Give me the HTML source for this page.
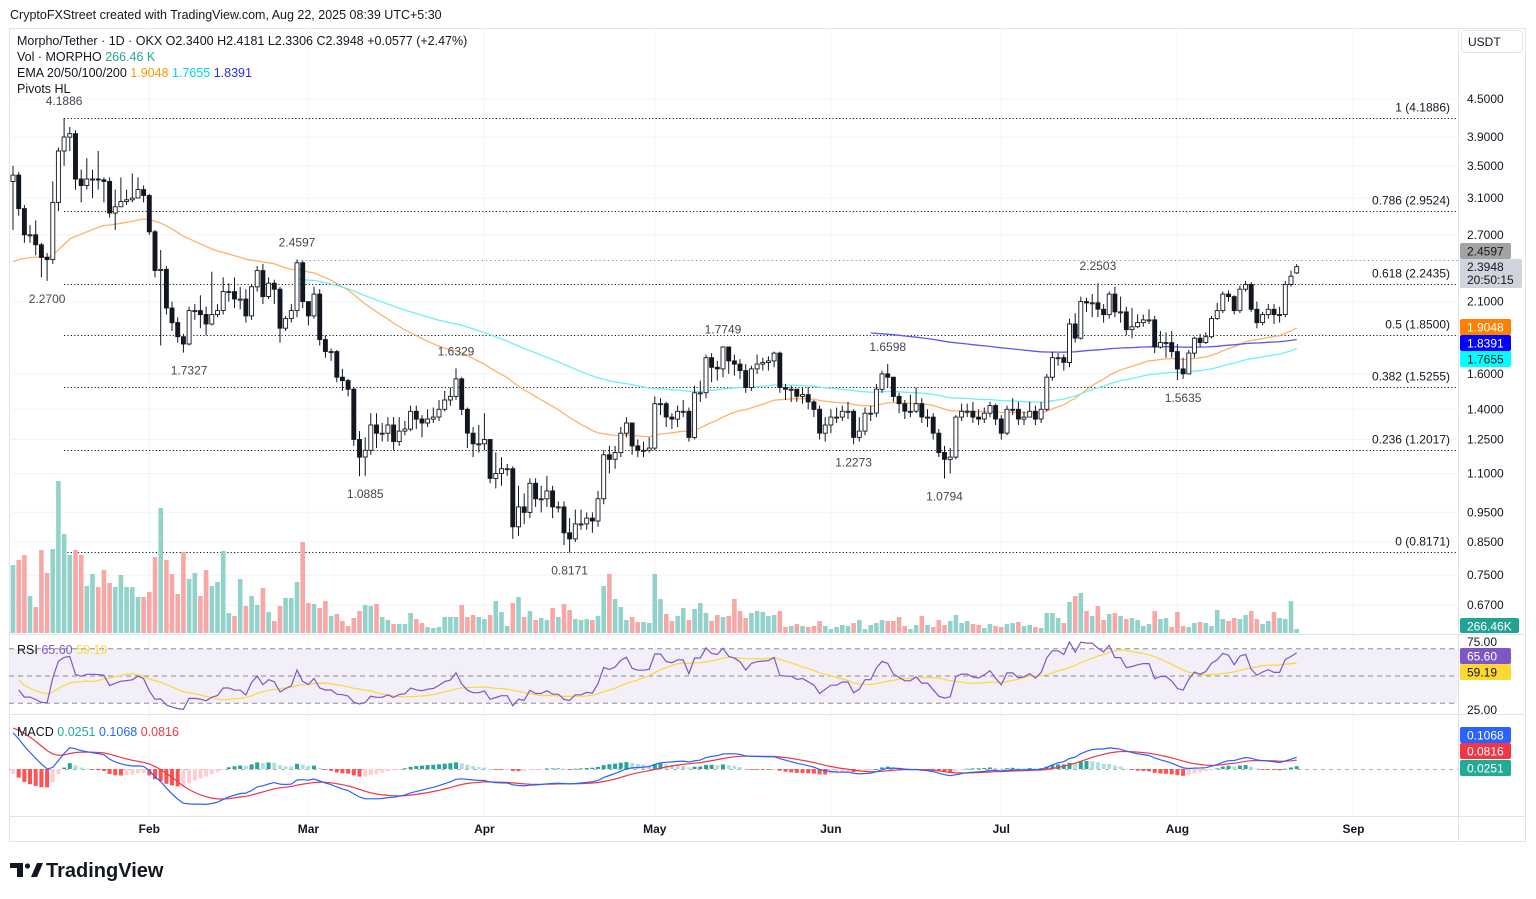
<!DOCTYPE html>
<html><head><meta charset="utf-8">
<style>
html,body{margin:0;padding:0;background:#fff;}
svg{display:block;font-family:"Liberation Sans",sans-serif;}
</style></head>
<body>
<svg id="chart" width="1536" height="899" viewBox="0 0 1536 899" xmlns="http://www.w3.org/2000/svg">
<rect x="0" y="0" width="1536" height="899" fill="#ffffff"/>
<text x="10" y="19" font-size="12.5" fill="#131722">CryptoFXStreet created with TradingView.com, Aug 22, 2025 08:39 UTC+5:30</text>
<rect x="9.5" y="28.5" width="1516" height="813" fill="none" stroke="#e0e3eb"/>
<g id="grid"></g>
<rect x="9.5" y="649" width="1448" height="54" fill="#f2eff9"/>
<g id="fib"></g>
<g id="vol"></g>
<g id="ema"></g>
<g id="candles"></g>
<g id="pivots"></g>
<g id="rsi"></g>
<g id="macd"></g>
<g id="axis"></g>
<g id="xaxis"></g>
<line x1="1458.5" y1="28" x2="1458.5" y2="842" stroke="#e0e3eb"/>
<line x1="9" y1="634.5" x2="1526" y2="634.5" stroke="#e0e3eb"/>
<line x1="9" y1="714.5" x2="1526" y2="714.5" stroke="#e0e3eb"/>
<line x1="9" y1="816.5" x2="1526" y2="816.5" stroke="#e0e3eb"/>
<g font-size="12.5" xml:space="preserve">
<text x="17" y="45" fill="#131722">Morpho/Tether · 1D · OKX  O2.3400  H2.4181  L2.3306  C2.3948  +0.0577 (+2.47%)</text>
<text x="17" y="61" fill="#131722">Vol · MORPHO  <tspan fill="#26a69a">266.46 K</tspan></text>
<text x="17" y="77" fill="#131722">EMA 20/50/100/200  <tspan fill="#ff9800">1.9048</tspan>  <tspan fill="#00d5e8">1.7655</tspan>  <tspan fill="#2b2bff">1.8391</tspan></text>
<text x="17" y="93" fill="#131722">Pivots HL</text>
<text x="17" y="654" fill="#131722">RSI  <tspan fill="#7e57c2">65.60</tspan>  <tspan fill="#fdd835">59.19</tspan></text>
<text x="17" y="736" fill="#131722">MACD  <tspan fill="#22ab94">0.0251</tspan>  <tspan fill="#2962ff">0.1068</tspan>  <tspan fill="#f23645">0.0816</tspan></text>
</g>
<rect x="1461.5" y="30.5" width="61" height="22" rx="4" fill="#fff" stroke="#e0e3eb"/>
<text x="1468" y="46" font-size="12" fill="#131722">USDT</text>
<g>
<path d="M10 863 h13 v14 h-6 v-9 h-7 z" fill="#131722"/>
<circle cx="27.5" cy="866" r="2.6" fill="#131722"/>
<path d="M31 877 l6 -14 h6 l-6 14 z" fill="#131722"/>
<text x="46" y="877" font-size="20" font-weight="bold" fill="#131722">TradingView</text>
</g>
</svg>
<script>
const closes=[3.38,2.98,2.70,2.70,2.60,2.48,2.46,3.05,3.70,3.90,3.95,3.33,3.25,3.33,3.33,3.32,3.30,2.93,3.00,3.06,3.08,3.10,3.20,3.13,2.73,2.36,2.37,2.05,1.94,1.84,1.79,2.03,2.03,2.00,1.93,2.00,2.03,2.18,2.18,2.12,2.12,1.99,2.22,2.36,2.14,2.25,2.20,1.90,1.97,2.03,2.43,2.10,1.99,2.16,1.82,1.74,1.74,1.58,1.56,1.51,1.25,1.17,1.20,1.32,1.28,1.28,1.32,1.24,1.29,1.30,1.39,1.35,1.33,1.35,1.36,1.40,1.45,1.47,1.57,1.40,1.28,1.23,1.23,1.25,1.08,1.10,1.12,1.12,0.90,0.97,0.95,1.06,1.00,1.00,1.03,0.97,0.97,0.88,0.86,0.91,0.91,0.93,0.92,1.00,1.18,1.16,1.19,1.28,1.33,1.22,1.20,1.20,1.21,1.43,1.43,1.36,1.35,1.39,1.39,1.26,1.49,1.49,1.70,1.64,1.63,1.77,1.68,1.66,1.62,1.52,1.63,1.66,1.67,1.68,1.73,1.52,1.51,1.51,1.47,1.48,1.44,1.40,1.28,1.32,1.36,1.36,1.39,1.39,1.26,1.29,1.38,1.38,1.51,1.60,1.58,1.47,1.43,1.39,1.39,1.43,1.36,1.36,1.28,1.19,1.16,1.17,1.36,1.39,1.39,1.36,1.35,1.38,1.42,1.35,1.28,1.40,1.40,1.35,1.36,1.39,1.35,1.40,1.58,1.70,1.70,1.67,1.93,1.83,2.10,2.09,2.09,2.04,2.00,2.16,2.02,2.02,1.89,1.91,1.94,1.96,1.96,1.77,1.80,1.80,1.74,1.63,1.60,1.73,1.83,1.80,1.84,1.97,2.03,2.16,2.14,2.03,2.20,2.24,2.04,1.94,2.00,2.04,2.00,2.00,2.24,2.31,2.3948];
const highs=[3.50,3.42,3.02,2.80,2.85,2.62,2.52,3.30,3.75,4.19,4.05,4.00,3.45,3.60,3.45,3.70,3.35,3.35,3.20,3.35,3.20,3.40,3.35,3.25,3.15,2.75,2.55,2.40,2.10,1.98,1.86,2.06,2.08,2.15,2.06,2.35,2.08,2.30,2.25,2.30,2.22,2.20,2.24,2.40,2.42,2.30,2.28,2.22,1.99,2.08,2.46,2.45,2.10,2.22,2.20,1.85,1.76,1.75,1.63,1.57,1.52,1.29,1.26,1.38,1.38,1.33,1.36,1.36,1.36,1.34,1.42,1.42,1.37,1.40,1.41,1.45,1.50,1.52,1.633,1.58,1.41,1.31,1.32,1.38,1.25,1.19,1.17,1.14,1.13,1.05,1.02,1.08,1.08,1.05,1.09,1.05,0.99,0.99,0.93,0.96,0.96,0.95,0.95,1.03,1.20,1.22,1.22,1.31,1.36,1.33,1.25,1.24,1.26,1.47,1.46,1.44,1.38,1.42,1.45,1.41,1.53,1.56,1.72,1.73,1.68,1.775,1.77,1.72,1.69,1.66,1.65,1.72,1.70,1.71,1.74,1.74,1.54,1.53,1.51,1.52,1.52,1.45,1.42,1.36,1.40,1.41,1.42,1.44,1.40,1.36,1.41,1.42,1.54,1.62,1.66,1.58,1.49,1.45,1.48,1.52,1.46,1.40,1.38,1.30,1.22,1.21,1.37,1.43,1.43,1.44,1.40,1.41,1.44,1.43,1.37,1.42,1.46,1.44,1.39,1.44,1.42,1.44,1.60,1.74,1.73,1.72,1.97,2.01,2.14,2.13,2.16,2.25,2.08,2.18,2.22,2.14,2.06,2.05,2.00,2.00,2.04,1.99,1.88,1.87,1.88,1.79,1.70,1.75,1.84,1.86,1.87,1.99,2.09,2.18,2.19,2.15,2.23,2.27,2.26,2.10,2.02,2.08,2.08,2.06,2.27,2.36,2.418];
const lows=[2.75,2.90,2.62,2.62,2.50,2.30,2.27,2.42,2.95,3.50,3.70,3.20,3.05,3.20,3.10,3.20,3.05,2.88,2.75,3.00,3.02,3.05,3.10,3.05,2.70,2.30,1.78,2.00,1.88,1.80,1.733,1.78,1.96,1.90,1.85,1.92,1.98,2.00,2.10,2.05,2.04,1.94,1.96,2.18,2.08,2.12,2.08,1.80,1.88,1.94,1.98,2.05,1.92,1.97,1.78,1.70,1.68,1.55,1.50,1.47,1.22,1.0885,1.09,1.18,1.21,1.24,1.24,1.20,1.22,1.27,1.29,1.30,1.26,1.31,1.33,1.34,1.39,1.42,1.45,1.37,1.21,1.17,1.19,1.20,1.06,1.04,1.05,1.09,0.86,0.87,0.91,0.93,0.97,0.95,0.97,0.93,0.95,0.84,0.817,0.85,0.89,0.89,0.88,0.90,0.98,1.10,1.12,1.17,1.26,1.18,1.17,1.17,1.19,1.20,1.37,1.31,1.30,1.31,1.36,1.24,1.25,1.44,1.46,1.55,1.56,1.58,1.60,1.59,1.57,1.49,1.50,1.60,1.62,1.62,1.64,1.49,1.45,1.44,1.44,1.43,1.40,1.36,1.25,1.24,1.28,1.33,1.34,1.35,1.2273,1.24,1.27,1.34,1.36,1.49,1.52,1.44,1.38,1.35,1.36,1.38,1.33,1.31,1.25,1.17,1.0794,1.10,1.16,1.34,1.36,1.33,1.32,1.33,1.36,1.32,1.25,1.27,1.37,1.32,1.32,1.36,1.32,1.33,1.39,1.56,1.65,1.62,1.64,1.80,1.82,2.02,1.98,1.98,1.94,1.97,1.98,1.94,1.85,1.83,1.90,1.91,1.93,1.73,1.76,1.70,1.70,1.5635,1.57,1.60,1.70,1.77,1.79,1.83,1.96,2.01,2.10,2.00,2.01,2.18,2.02,1.90,1.92,1.97,1.93,1.94,1.98,2.22,2.3306];
const firstOpen=3.30;
const lastOpen=2.34;
const volumes=[68,73,78,37,26,83,60,84,152,99,78,83,78,47,59,46,63,50,46,58,46,46,36,36,41,76,125,73,59,39,81,54,60,37,63,47,51,82,20,17,54,27,37,28,45,21,12,27,35,35,51,91,30,29,25,32,17,19,12,7,15,22,28,27,29,16,13,9,9,9,20,14,10,6,5,6,16,16,16,28,16,18,16,14,18,32,21,7,30,36,16,22,13,15,13,25,16,29,23,14,13,14,13,17,47,59,34,26,13,16,11,
11,10,59,34,19,12,17,25,13,24,30,20,12,18,16,17,34,22,15,20,22,21,17,18,22,6,7,9,7,6,7,12,7,4,6,8,7,10,13,4,8,10,13,12,12,16,7,4,8,17,8,6,13,8,12,18,10,12,9,8,5,9,7,6,9,10,11,7,8,6,5,20,20,15,10,31,37,40,22,17,27,13,19,20,17,14,15,13,7,9,22,14,15,6,21,7,6,10,11,10,7,23,14,12,15,14,18,22,14,9,12,21,15,14,32,4];
const priceTicks=[4.5,3.9,3.5,3.1,2.7,2.1,1.6,1.4,1.25,1.1,0.95,0.85,0.75,0.67];
const monthLabels=["Feb","Mar","Apr","May","Jun","Jul","Aug","Sep"];
const monthDays=[24,52,83,113,144,174,205,236];
const fibRatios=["1","0.786","0.618","0.5","0.382","0.236","0"];
const fibPrices=[4.1886,2.9524,2.2435,1.85,1.5255,1.2017,0.8171];
const pivotText=["4.1886","2.2700","1.7327","2.4597","1.0885","1.6329","0.8171","1.7749","1.2273","1.6598","1.0794","2.2503","1.5635"];
const pivotDay=[9,6,31,50,62,78,98,125,148,154,164,191,206];
const pivotIsHigh=[1,0,0,1,0,1,0,1,0,1,0,1,0];
const emaPeriods=[50,100,200];
const emaSeeds=[2.40,1.95,2.90];
const emaStart=[0,50,151];
const emaColors=["#ffb26b","#6ff0f4","#5a5af0"];
const macdSeeds=[3.35,3.0,0.38];

const NS="http://www.w3.org/2000/svg";
function mk(tag,attrs,parent){const e=document.createElementNS(NS,tag);for(const k in attrs)e.setAttribute(k,attrs[k]);parent.appendChild(e);return e;}
const X=i=>13+i*5.68;
const LN45=Math.log(4.5);
const Y=p=>99+(LN45-Math.log(p))*265.8;
const RY=v=>676-(v-50)*1.36;
const MY=v=>769-v*111;
const VY=v=>633-v;
const PLOT_R=1458;

const grid=document.getElementById('grid');
priceTicks.forEach(p=>{const l=mk('line',{x1:9,x2:PLOT_R,y1:Y(p).toFixed(1),y2:Y(p).toFixed(1),stroke:'#f3f4f6'},grid);

});
monthDays.forEach(d=>{const l=mk('line',{x1:X(d),x2:X(d),y1:28,y2:816,stroke:'#f3f4f6'},grid);

});

const fib=document.getElementById('fib');
fibPrices.forEach((p,k)=>{const y=Math.round(Y(p))+0.5;
const l=mk('line',{x1:64,x2:PLOT_R,y1:y,y2:y,stroke:'#131722','stroke-dasharray':'1.2,2.2'},fib);


const t=mk('text',{x:1450,y:y-7,'text-anchor':'end','font-size':12,fill:'#131722'},fib);
t.textContent=fibRatios[k]+' ('+p.toFixed(4)+')';

});
{const y=Math.round(Y(2.4597))+0.5;
const l=mk('line',{x1:X(50),x2:PLOT_R,y1:y,y2:y,stroke:'#8a8d96','stroke-dasharray':'1.2,3'},fib);

}

const opens=closes.map((c,i)=>i===0?firstOpen:(i===closes.length-1?lastOpen:closes[i-1]));

const vol=document.getElementById('vol');
volumes.forEach((v,i)=>{const up=closes[i]>=opens[i];
const r=mk('rect',{x:(X(i)-2.3).toFixed(1),y:VY(v),width:4.6,height:v,fill:up?'#92d2cb':'#f7a8a6'},vol);

});

function ema(arr,n,seed){const a=2/(n+1);let e=seed;return arr.map(v=>{e=e+a*(v-e);return e;});}
const emaG=document.getElementById('ema');
emaPeriods.forEach((n,k)=>{const e=ema(closes,n,emaSeeds[k]);
let d='';for(let i=emaStart[k];i<e.length;i++)d+=(i===emaStart[k]?'M':'L')+X(i).toFixed(1)+' '+Y(e[i]).toFixed(1);
const p=mk('path',{d:d,fill:'none',stroke:emaColors[k],'stroke-width':1.3},emaG);

});

const cg=document.getElementById('candles');
closes.forEach((c,i)=>{const o=opens[i];const x=X(i);
const w=mk('line',{x1:x.toFixed(1),x2:x.toFixed(1),y1:Y(highs[i]).toFixed(1),y2:Y(lows[i]).toFixed(1),stroke:'#131722','stroke-width':1},cg);


const top=Y(Math.max(o,c)),bot=Y(Math.min(o,c));
const up=c>=o;
const b=mk('rect',{x:(x-2).toFixed(1),y:top.toFixed(1),width:4,height:Math.max(1,bot-top).toFixed(1),fill:up?'#ffffff':'#131722',stroke:'#131722','stroke-width':0.9},cg);

});

const pg=document.getElementById('pivots');
pivotText.forEach((t,k)=>{const d=pivotDay[k];const p=parseFloat(t);
const y=pivotIsHigh[k]?Y(p)-13:Y(p)+22;
const tx=mk('text',{x:X(d).toFixed(1),y:y.toFixed(1),'text-anchor':'middle','font-size':12,fill:'#434651'},pg);
tx.textContent=t;

});

// RSI
const rg=document.getElementById('rsi');
[70,50,30].forEach(v=>{const l=mk('line',{x1:9,x2:PLOT_R,y1:RY(v),y2:RY(v),stroke:'#8a8d96','stroke-dasharray':'5,4'},rg);

});
const rsi=[];{let ag=0.06,al=0.06;const n=14;
for(let i=0;i<closes.length;i++){if(i===0){rsi.push(55);continue;}
const ch=closes[i]-closes[i-1];const g=Math.max(ch,0),l=Math.max(-ch,0);
ag=(ag*(n-1)+g)/n;al=(al*(n-1)+l)/n;
rsi.push(100-100/(1+ag/Math.max(al,1e-9)));}}
const rsiMa=rsi.map((v,i)=>{const s=rsi.slice(Math.max(0,i-13),i+1);return s.reduce((a,b)=>a+b,0)/s.length;});
function linePath(arr,fy,from){let d='';for(let i=from;i<arr.length;i++)d+=(i===from?'M':'L')+X(i).toFixed(1)+' '+fy(arr[i]).toFixed(1);return d;}
{const p=mk('path',{d:linePath(rsiMa,RY,1),fill:'none',stroke:'#fdd835','stroke-width':1.2},rg);


const q=mk('path',{d:linePath(rsi,RY,1),fill:'none',stroke:'#7e57c2','stroke-width':1.2},rg);

}

// MACD
const mg=document.getElementById('macd');
const e12=ema(closes,12,macdSeeds[0]),e26=ema(closes,26,macdSeeds[1]);
const macd=e12.map((v,i)=>v-e26[i]);
const sig=ema(macd,9,macdSeeds[2]);
{const l=mk('line',{x1:9,x2:PLOT_R,y1:769.5,y2:769.5,stroke:'#b2b5be','stroke-dasharray':'4,4'},mg);

}
macd.forEach((m,i)=>{const h=m-sig[i];const prev=i>0?macd[i-1]-sig[i-1]:h;
let col;if(h>=0)col=h>=prev?'#26a69a':'#b2dfdb';else col=h<prev?'#ff5252':'#ffcdd2';
const y1=MY(Math.max(h,0)),y2=MY(Math.min(h,0));
const r=mk('rect',{x:(X(i)-2).toFixed(1),y:y1.toFixed(1),width:4,height:Math.max(0.8,y2-y1).toFixed(1),fill:col},mg);

});
{const p=mk('path',{d:linePath(sig,MY,0),fill:'none',stroke:'#f23645','stroke-width':1.2},mg);


const q=mk('path',{d:linePath(macd,MY,0),fill:'none',stroke:'#2962ff','stroke-width':1.2},mg);

}

// price axis
const ax=document.getElementById('axis');
priceTicks.forEach(p=>{const t=mk('text',{x:1467,y:(Y(p)+4).toFixed(1),'font-size':12,fill:'#131722'},ax);
t.textContent=p.toFixed(4);

});
[[75,642],[25,710]].forEach(a=>{const t=mk('text',{x:1467,y:a[1]+4,'font-size':12,fill:'#131722'},ax);
t.textContent=a[0].toFixed(2);

});
const boxes=[["2.4597",243,16,'#a3a3a3','#131722',51],["1.9048",319,16,'#ff8000','#ffffff',51],["1.8391",335,16,'#0000ff','#ffffff',51],["1.7655",351,16,'#00ffff','#131722',51],["266.46K",618,15,'#22a194','#ffffff',59],["65.60",648,16,'#7e57c2','#ffffff',51],["59.19",664,16,'#fdd835','#131722',51],["0.1068",727,16,'#2962ff','#ffffff',51],["0.0816",743,16,'#f23645','#ffffff',51],["0.0251",760,16,'#22ab94','#ffffff',51]];
boxes.forEach(b=>{const r=mk('rect',{x:1460,y:b[1],width:b[5],height:b[2],rx:2,fill:b[3]},ax);


const t=mk('text',{x:1467,y:b[1]+12.5,'font-size':12,fill:b[4]},ax);
t.textContent=b[0];

});
{const r=mk('rect',{x:1460,y:259,width:62,height:29,rx:2,fill:'#d1d4dc'},ax);


const t=mk('text',{x:1467,y:271,'font-size':12,fill:'#131722'},ax);
t.textContent='2.3948';


const t2=mk('text',{x:1467,y:284,'font-size':12,fill:'#131722'},ax);
t2.textContent='20:50:15';

}

const xa=document.getElementById('xaxis');
monthLabels.forEach((m,k)=>{const t=mk('text',{x:X(monthDays[k]).toFixed(1),y:833,'text-anchor':'middle','font-size':12,'font-weight':'bold',fill:'#131722'},xa);
t.textContent=m;

});
</script>
</body></html>
